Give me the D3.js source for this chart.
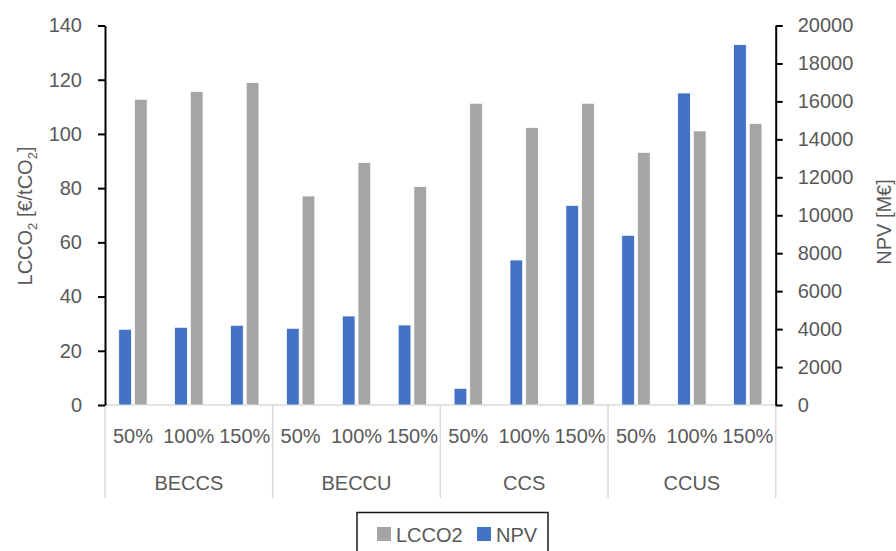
<!DOCTYPE html>
<html>
<head>
<meta charset="utf-8">
<script src="https://cdn.jsdelivr.net/npm/d3@7/dist/d3.min.js"></script>
<style>
  html, body { margin: 0; padding: 0; background: #fff; }
  svg { display: block; font-family: "Liberation Sans", Arial, sans-serif; }
</style>
</head>
<body>
<svg id="chart" width="896" height="551"></svg>
<script>
// ---- data ----
const groups = ["BECCS", "BECCU", "CCS", "CCUS"];
const levels = ["50%", "100%", "150%"];
const lcco2 = [112.8, 115.7, 119.0, 77.1, 89.5, 80.6, 111.3, 102.4, 111.3, 93.2, 101.1, 103.9];
const npv = [3990, 4095, 4200, 4042, 4690, 4216, 880, 7642, 10522, 8943, 16443, 18990];
const leftTicks = [0, 20, 40, 60, 80, 100, 120, 140];
const rightTicks = [0, 2000, 4000, 6000, 8000, 10000, 12000, 14000, 16000, 18000, 20000];
const seriesNames = ["LCCO2", "NPV"];
const seriesColors = { LCCO2: "#A5A5A5", NPV: "#4472C4" };

// ---- layout ----
const L = 105, R = 775.7, T = 25.5, B = 405;
const svg = d3.select("#chart");
const textColor = "#595959";
const fs = 20;

const cats = [];
groups.forEach(g => levels.forEach(l => cats.push(g + "|" + l)));

const x0 = d3.scaleBand().domain(cats).range([L, R]).paddingInner(0).paddingOuter(0);
const x1 = d3.scaleBand().domain(["NPV", "LCCO2"]).range([0, x0.bandwidth()])
  .paddingInner(0.19).paddingOuter(0.876);
const gx = d3.scaleBand().domain(groups).range([L, R]);

const yL = d3.scaleLinear().domain([0, 140]).range([B, T]);
const yR = d3.scaleLinear().domain([0, 20000]).range([B, T]);

// ---- category axis (multi-level) ----
const catAxis = svg.append("g");
catAxis.append("line").attr("x1", L).attr("x2", R).attr("y1", B).attr("y2", B)
  .attr("stroke", "#D9D9D9").attr("stroke-width", 1.5);
const seps = groups.map(g => gx(g)).concat([R]);
catAxis.selectAll("line.sep").data(seps).enter().append("line").attr("class", "sep")
  .attr("x1", d => d).attr("x2", d => d).attr("y1", B).attr("y2", 498)
  .attr("stroke", "#D9D9D9").attr("stroke-width", 1.5);
catAxis.selectAll("text.lvl").data(cats).enter().append("text").attr("class", "lvl")
  .attr("x", d => x0(d) + x0.bandwidth() / 2).attr("y", 443)
  .attr("text-anchor", "middle").attr("fill", textColor).attr("font-size", fs)
  .text(d => d.split("|")[1]);
catAxis.selectAll("text.grp").data(groups).enter().append("text").attr("class", "grp")
  .attr("x", d => gx(d) + gx.bandwidth() / 2).attr("y", 490)
  .attr("text-anchor", "middle").attr("fill", textColor).attr("font-size", fs)
  .text(d => d);

// ---- bars ----
const bars = svg.append("g");
bars.selectAll("rect.npv").data(npv).enter().append("rect").attr("class", "npv")
  .attr("x", (d, i) => x0(cats[i]) + x1("NPV"))
  .attr("width", x1.bandwidth())
  .attr("y", d => yR(d)).attr("height", d => B - yR(d))
  .attr("fill", seriesColors.NPV).attr("stroke", "#fff").attr("stroke-width", 0.75);
bars.selectAll("rect.lc").data(lcco2).enter().append("rect").attr("class", "lc")
  .attr("x", (d, i) => x0(cats[i]) + x1("LCCO2"))
  .attr("width", x1.bandwidth())
  .attr("y", d => yL(d)).attr("height", d => B - yL(d))
  .attr("fill", seriesColors.LCCO2).attr("stroke", "#fff").attr("stroke-width", 0.75);

// ---- value axes ----
const axL = svg.append("g").attr("transform", `translate(${L},0)`)
  .call(d3.axisLeft(yL).tickValues(leftTicks).tickSize(7).tickPadding(16).tickSizeOuter(0)
    .tickFormat(d3.format("d")));
const axR = svg.append("g").attr("transform", `translate(${R},0)`)
  .call(d3.axisRight(yR).tickValues(rightTicks).tickSize(7).tickPadding(15).tickSizeOuter(0)
    .tickFormat(d3.format("d")));
[axL, axR].forEach(ax => {
  ax.attr("font-size", fs).attr("font-family", "Liberation Sans, Arial, sans-serif");
  ax.select(".domain").attr("stroke", "#000").attr("stroke-width", 2);
  ax.selectAll(".tick line").attr("stroke", "#000").attr("stroke-width", 2);
  ax.selectAll(".tick text").attr("fill", textColor).attr("font-size", fs);
});

// ---- axis titles ----
const tl = svg.append("text").attr("transform", "translate(32,216) rotate(-90)")
  .attr("text-anchor", "middle").attr("fill", textColor).attr("font-size", fs);
tl.append("tspan").text("LCCO");
tl.append("tspan").attr("font-size", 13).attr("dy", 5).text("2");
tl.append("tspan").attr("dy", -5).text(" [€/tCO");
tl.append("tspan").attr("font-size", 13).attr("dy", 5).text("2");
tl.append("tspan").attr("dy", -5).text("]");

svg.append("text").attr("transform", "translate(891,222) rotate(-90)")
  .attr("text-anchor", "middle").attr("fill", textColor).attr("font-size", fs)
  .text("NPV [M€]");

// ---- legend ----
const lg = svg.append("g");
lg.append("rect").attr("x", 357).attr("y", 512.5).attr("width", 191).attr("height", 60)
  .attr("fill", "#fff").attr("stroke", "#1a1a1a").attr("stroke-width", 1.5);
const legX = { LCCO2: 377, NPV: 477 };
seriesNames.forEach(n => {
  lg.append("rect").attr("x", legX[n]).attr("y", 527).attr("width", 14).attr("height", 14)
    .attr("fill", seriesColors[n]);
  lg.append("text").attr("x", legX[n] + 19).attr("y", 541.5).attr("fill", textColor)
    .attr("font-size", fs).text(n);
});
</script>
</body>
</html>
